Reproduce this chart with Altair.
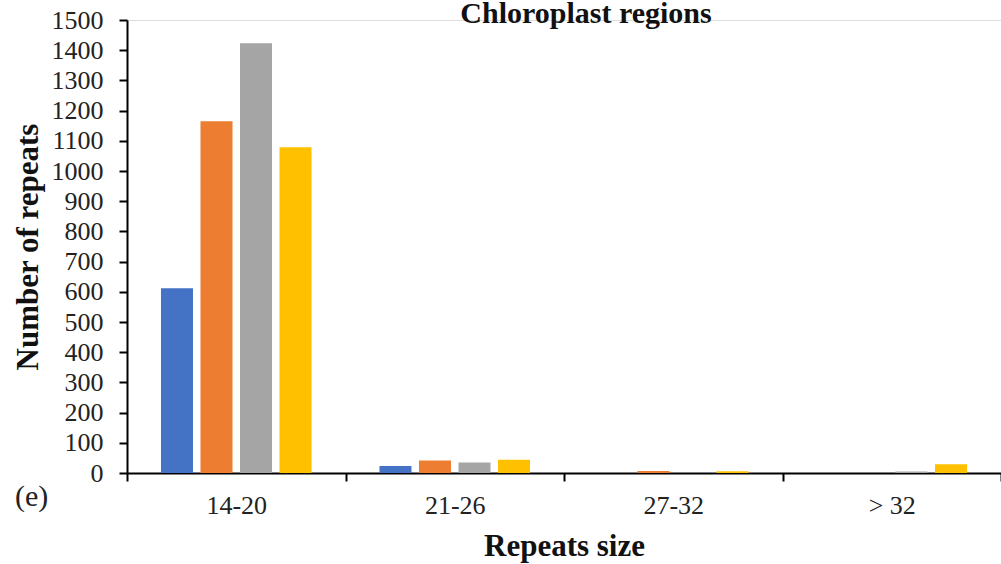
import altair as alt
import pandas as pd

categories = ["14-20", "21-26", "27-32", "> 32"]
series = ["Series 1", "Series 2", "Series 3", "Series 4"]
colors = ["#4472C4", "#ED7D31", "#A5A5A5", "#FFC000"]
values = {
    "Series 1": [612, 23, 0, 0],
    "Series 2": [1165, 41, 7, 0],
    "Series 3": [1423, 35, 0, 5],
    "Series 4": [1079, 44, 6, 29],
}
y_ticks = list(range(0, 1501, 100))
chart_title = "Chloroplast regions"
panel_label = "(e)"

rows = []
for s in series:
    for c, v in zip(categories, values[s]):
        rows.append({"size": c, "series": s, "count": v})
df = pd.DataFrame(rows)

FONT = "Liberation Serif"

bars = alt.Chart(df).mark_bar().encode(
    x=alt.X(
        "size:N",
        sort=categories,
        scale=alt.Scale(paddingInner=0, paddingOuter=0),
        axis=alt.Axis(
            title="Repeats size",
            tickBand="extent",
            tickSize=8,
            tickWidth=2,
            tickColor="black",
            domainColor="black",
            domainWidth=2,
            labelAngle=0,
            labelFont=FONT,
            labelFontSize=26,
            labelColor="#222222",
            labelPadding=11,
            titleFont=FONT,
            titleFontSize=31,
            titleFontWeight="bold",
            titleColor="#111111",
            titleBaseline="alphabetic",
            titleY=82,
        ),
    ),
    xOffset=alt.XOffset(
        "series:N",
        sort=series,
        scale=alt.Scale(paddingInner=0.19, paddingOuter=0.86),
    ),
    y=alt.Y(
        "count:Q",
        scale=alt.Scale(domain=[0, 1500], nice=False),
        axis=alt.Axis(
            title="Number of repeats",
            values=y_ticks,
            format="d",
            grid=False,
            tickSize=8,
            tickWidth=2,
            tickColor="black",
            domainColor="black",
            domainWidth=2,
            labelFont=FONT,
            labelFontSize=26,
            labelColor="#222222",
            labelPadding=16,
            titleFont=FONT,
            titleFontSize=31,
            titleFontWeight="bold",
            titleColor="#111111",
            titleBaseline="alphabetic",
            titleX=-90,
        ),
    ),
    color=alt.Color(
        "series:N",
        sort=series,
        scale=alt.Scale(domain=series, range=colors),
        legend=None,
    ),
)

label = alt.Chart(pd.DataFrame({"t": [panel_label]})).mark_text(
    font=FONT, fontSize=30, align="left", baseline="alphabetic", color="#222222"
).encode(
    text="t:N",
    x=alt.value(-112),
    y=alt.value(486),
)

title_text = alt.Chart(pd.DataFrame({"t": [chart_title]})).mark_text(
    font=FONT, fontSize=30, fontWeight="bold", align="center",
    baseline="alphabetic", color="#111111"
).encode(
    text="t:N",
    x=alt.value(459),
    y=alt.value(3),
)

chart = (
    alt.layer(bars, label, title_text)
    .properties(
        width=874,
        height=453,
        autosize=alt.AutoSizeParams(type="none"),
        padding={"left": 127, "top": 20, "right": 0, "bottom": 91},
    )
    .configure_view(stroke=None)
    .configure(background="white")
)

chart.save("out.html", embed_options={"renderer": "svg", "actions": False})
